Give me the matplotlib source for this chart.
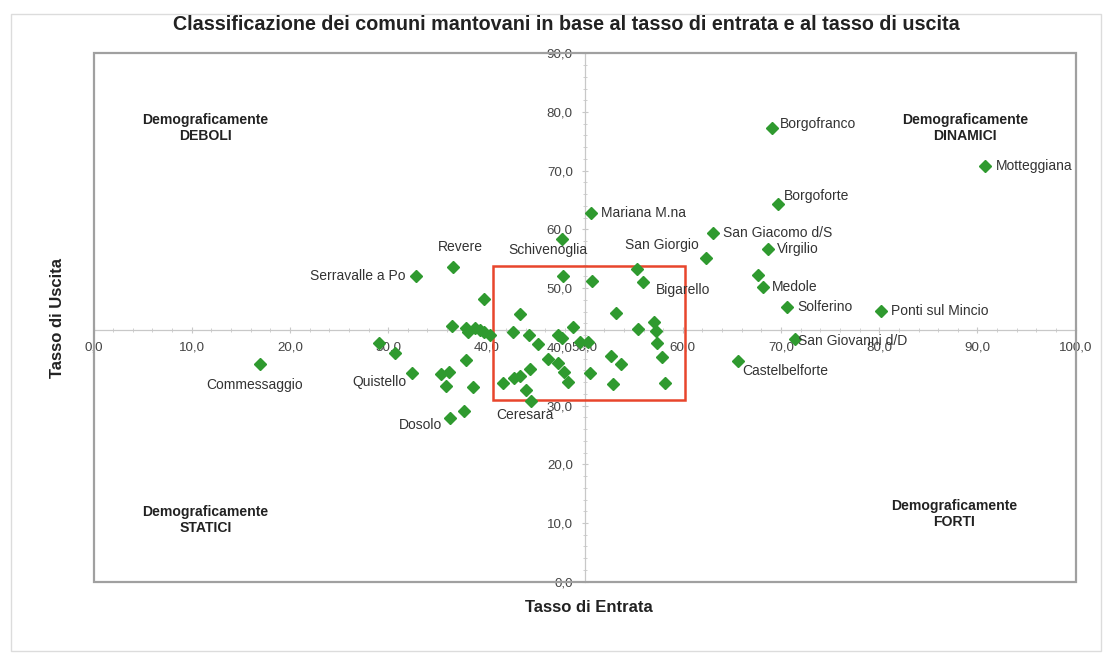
import matplotlib
matplotlib.use("Agg")
import matplotlib.pyplot as plt
from matplotlib.patches import Rectangle
from matplotlib.ticker import MultipleLocator

plt.rcParams['font.family'] = ['Liberation Sans', 'DejaVu Sans']

# ---- data -------------------------------------------------------------
labeled_names = ["Borgofranco", "Motteggiana", "Borgoforte", "Mariana M.na",
                 "San Giacomo d/S", "Virgilio", "San Giorgio", "Medole",
                 "Solferino", "Ponti sul Mincio", "San Giovanni d/D",
                 "Castelbelforte", "Bigarello", "Schivenoglia", "Revere",
                 "Serravalle a Po", "Commessaggio", "Quistello", "Dosolo",
                 "Ceresara"]
labeled_entrata = [69.1, 90.8, 69.7, 50.7, 63.1, 68.7, 62.4, 68.2, 70.6, 80.2,
                   71.4, 65.6, 55.9, 47.7, 36.6, 32.8, 17.0, 32.4, 36.3, 44.5]
labeled_uscita = [77.2, 70.8, 64.4, 62.8, 59.4, 56.6, 55.1, 50.2, 46.8, 46.1,
                  41.3, 37.6, 51.0, 58.3, 53.6, 52.1, 37.1, 35.6, 27.9, 30.7]

other_entrata = [67.7, 55.3, 50.8, 47.8, 39.8, 43.4, 53.2, 55.4, 57.1, 57.3,
                 57.4, 57.9, 58.2, 52.7, 53.7, 52.9, 50.5, 49.5, 50.3, 48.8,
                 47.3, 47.7, 45.3, 44.3, 42.7, 36.5, 37.9, 38.1, 38.8, 39.4,
                 39.8, 40.4, 29.1, 30.7, 35.4, 36.2, 35.9, 37.9, 38.6, 37.7,
                 41.7, 42.8, 43.4, 44.4, 44.0, 46.3, 47.3, 47.9, 48.3]
other_uscita = [52.2, 53.3, 51.2, 52.0, 48.2, 45.6, 45.7, 43.1, 44.2, 42.7,
                40.6, 38.3, 33.9, 38.4, 37.1, 33.7, 35.5, 40.9, 40.8, 43.4,
                42.1, 41.5, 40.5, 42.1, 42.5, 43.5, 43.2, 42.6, 43.2, 42.8,
                42.6, 42.1, 40.6, 39.0, 35.4, 35.8, 33.4, 37.7, 33.2, 29.0,
                33.8, 34.7, 35.1, 36.2, 32.7, 37.9, 37.2, 35.8, 34.0]

x_ticks = [0, 10, 20, 30, 40, 50, 60, 70, 80, 90, 100]
x_tick_labels = ["0,0", "10,0", "20,0", "30,0", "40,0", "50,0", "60,0",
                 "70,0", "80,0", "90,0", "100,0"]
y_ticks = [0, 10, 20, 30, 40, 50, 60, 70, 80, 90]
y_tick_labels = ["0,0", "10,0", "20,0", "30,0", "40,0", "50,0", "60,0",
                 "70,0", "80,0", "90,0"]

cross_x = 50.0     # vertical axis position
cross_y = 42.85    # horizontal axis position

# label offsets in pixels (dx, dy, ha, va)
label_style = {
    "Borgofranco": (8, 4, 'left', 'center'),
    "Motteggiana": (11, 0, 'left', 'center'),
    "Borgoforte": (6, 8, 'left', 'center'),
    "Mariana M.na": (10, 0, 'left', 'center'),
    "San Giacomo d/S": (10, 0, 'left', 'center'),
    "Virgilio": (9, 0, 'left', 'center'),
    "San Giorgio": (-8, 13, 'right', 'center'),
    "Medole": (9, 0, 'left', 'center'),
    "Solferino": (10, 0, 'left', 'center'),
    "Ponti sul Mincio": (10, 0, 'left', 'center'),
    "San Giovanni d/D": (3, -2, 'left', 'center'),
    "Castelbelforte": (4, -10, 'left', 'center'),
    "Bigarello": (13, -8, 'left', 'center'),
    "Schivenoglia": (-14, -11, 'center', 'center'),
    "Revere": (7, 20, 'center', 'center'),
    "Serravalle a Po": (-10, 0, 'right', 'center'),
    "Commessaggio": (-6, -21, 'center', 'center'),
    "Quistello": (-5, -9, 'right', 'center'),
    "Dosolo": (-8, -7, 'right', 'center'),
    "Ceresara": (-6, -14, 'center', 'center'),
}

quadrants = [("Demograficamente\nDEBOLI", 11.4, 77.3),
             ("Demograficamente\nDINAMICI", 88.7, 77.3),
             ("Demograficamente\nSTATICI", 11.4, 10.5),
             ("Demograficamente\nFORTI", 87.6, 11.5)]

# ---- figure -------------------------------------------------------------
W, H = 1116, 659
fig = plt.figure(figsize=(W / 100, H / 100), dpi=100)
fig.patch.set_facecolor('white')

# outer light border
fig.add_artist(Rectangle((11 / W, 1 - 651 / H), (1101 - 11) / W, (651 - 14) / H,
                         transform=fig.transFigure, fill=False,
                         edgecolor='#dcdcdc', linewidth=1.0))

left, right, top, bottom = 93.5, 1075.7, 53.3, 581.7
ax = fig.add_axes([left / W, 1 - bottom / H, (right - left) / W, (bottom - top) / H])
ax.set_xlim(0, 100)
ax.set_ylim(0, 90)

for s in ['top', 'right']:
    ax.spines[s].set_visible(False)
ax.spines['left'].set_position(('data', cross_x))
ax.spines['bottom'].set_position(('data', cross_y))
for s in ['left', 'bottom']:
    ax.spines[s].set_color('#c8c8c8')
    ax.spines[s].set_linewidth(0.9)
    ax.spines[s].set_zorder(1)

# frame
ax.add_patch(Rectangle((0, 0), 1, 1, transform=ax.transAxes, fill=False,
                       edgecolor='#a0a0a0', linewidth=1.6, clip_on=False, zorder=5))

ax.set_xticks(x_ticks)
ax.set_xticklabels(x_tick_labels)
ax.set_yticks(y_ticks)
ax.set_yticklabels(y_tick_labels)
ax.xaxis.set_minor_locator(MultipleLocator(2))
ax.yaxis.set_minor_locator(MultipleLocator(2))
ax.tick_params(axis='both', which='major', direction='inout', length=5,
               width=0.8, color='#c8c8c8', labelsize=9.6, labelcolor='#444444')
ax.tick_params(axis='both', which='minor', direction='inout', length=3,
               width=0.6, color='#c8c8c8')
ax.tick_params(axis='x', which='major', pad=6)
ax.tick_params(axis='y', which='major', pad=6)

# points
ax.plot(other_entrata, other_uscita, linestyle='none', marker='D',
        markersize=5.8, color='#2f9a2f', zorder=4, clip_on=False)
ax.plot(labeled_entrata, labeled_uscita, linestyle='none', marker='D',
        markersize=5.8, color='#2f9a2f', zorder=4, clip_on=False)

for name, xv, yv in zip(labeled_names, labeled_entrata, labeled_uscita):
    dx, dy, ha, va = label_style[name]
    ax.annotate(name, (xv, yv), xytext=(dx, dy), textcoords='offset pixels',
                ha=ha, va=va, fontsize=10, color='#333333', zorder=6,
                annotation_clip=False)

for txt, xv, yv in quadrants:
    ax.text(xv, yv, txt, ha='center', va='center', fontsize=10.1,
            fontweight='bold', color='#222222', linespacing=1.2)

# highlighted region
ax.add_patch(Rectangle((40.7, 30.9), 60.2 - 40.7, 53.7 - 30.9, fill=False,
                       edgecolor='#e8452c', linewidth=1.8, zorder=3))

fig.text(0.5 * (175 + 958) / W, 1 - 24.5 / H,
         "Classificazione dei comuni mantovani in base al tasso di entrata e al tasso di uscita",
         ha='center', va='center', fontsize=14.2, fontweight='bold', color='#222222')
fig.text(588.5 / W, 1 - 607 / H, "Tasso di Entrata", ha='center', va='center',
         fontsize=12, fontweight='bold', color='#222222')
fig.text(58 / W, 1 - 318.5 / H, "Tasso di Uscita", ha='center', va='center',
         rotation=90, fontsize=12, fontweight='bold', color='#222222')

fig.savefig("out.png", dpi=100, facecolor='white')
